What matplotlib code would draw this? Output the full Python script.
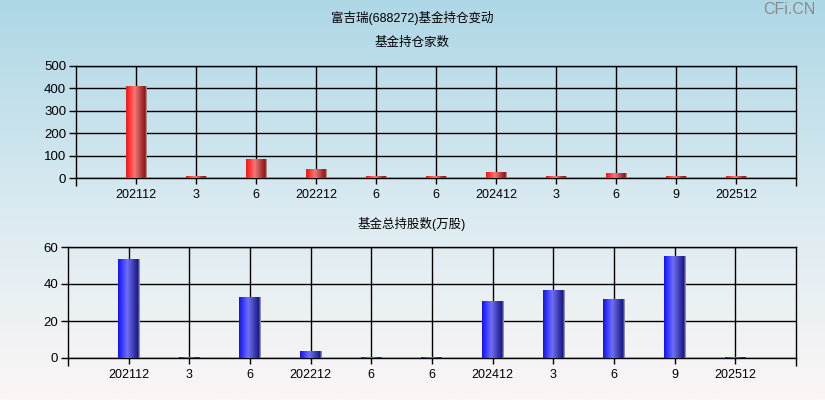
import numpy as np
import matplotlib
matplotlib.use("Agg")
import matplotlib.pyplot as plt
from matplotlib.colors import LinearSegmentedColormap

plt.rcParams['font.family'] = ['Liberation Sans', 'Noto Sans CJK SC', 'DejaVu Sans']

# Reporting periods
periods = ["202112", "3", "6", "202212", "6", "6", "202412", "3", "6", "9", "202512"]
# Number of funds holding the stock
fund_counts = [412, 8, 86, 42, 8, 8, 27, 8, 24, 8, 8]
# Total shares held by funds (10k shares)
fund_shares = [53.5, 0.4, 33.0, 4.0, 0.4, 0.4, 31.0, 36.9, 32.0, 55.3, 0.4]

title = "富吉瑞(688272)基金持仓变动"
top_title = "基金持仓家数"
bottom_title = "基金总持股数(万股)"

W, H = 825, 400
fig = plt.figure(figsize=(W / 100, H / 100), dpi=100)

# Background vertical gradient
bg = fig.add_axes([0, 0, 1, 1], zorder=-10)
bg_cmap = LinearSegmentedColormap.from_list(
    "bg", [(0.0, "#aed7e6"), (0.55, "#dcebf1"), (1.0, "#fcf6f6")])
bg.imshow(np.linspace(0, 1, 256).reshape(-1, 1), cmap=bg_cmap, aspect="auto",
          extent=[0, 1, 0, 1], origin="upper")
bg.set_axis_off()

red_cmap = LinearSegmentedColormap.from_list(
    "red", [(0.0, "#ff1010"), (0.12, "#ff2a2a"), (0.42, "#f07a7a"),
            (0.9, "#8e1818"), (0.93, "#7a1a1a"), (0.95, "#909090"), (1.0, "#909090")])
blue_cmap = LinearSegmentedColormap.from_list(
    "blue", [(0.0, "#1010ff"), (0.12, "#2a2aff"), (0.42, "#7070f0"),
             (0.9, "#1a1a88"), (0.93, "#1a1a78"), (0.95, "#909090"), (1.0, "#909090")])


def draw_panel(rect, values, ymax, yticks, cmap, width):
    ax = fig.add_axes(rect)
    ax.patch.set_alpha(0)
    x = np.arange(len(values))
    bars = ax.bar(x, values, width=width, color="none", zorder=3)
    grad = np.linspace(0, 1, 200).reshape(1, -1)
    for b in bars:
        x0, y0 = b.get_x(), b.get_y()
        im = ax.imshow(grad, cmap=cmap, aspect="auto", zorder=3,
                       extent=[x0, x0 + b.get_width(), y0, y0 + b.get_height()])
        im.set_clip_path(b)
    ax.set_xlim(-1, len(values))
    ax.set_ylim(0, ymax)
    ax.set_xticks(x)
    ax.set_xticklabels(periods, fontsize=9)
    ax.set_xticks([-1, len(values)], minor=True)
    ax.set_yticks(yticks)
    ax.set_yticklabels([str(t) for t in yticks], fontsize=9.5)
    ax.grid(True, color="black", linewidth=1, zorder=1)
    ax.set_axisbelow(True)
    ax.tick_params(axis="both", which="both", direction="out", width=1,
                   color="black", labelcolor="black", pad=2)
    ax.tick_params(axis="x", which="major", length=4, pad=4)
    ax.tick_params(axis="x", which="minor", length=6)
    ax.tick_params(axis="y", which="major", length=5)
    for s in ax.spines.values():
        s.set_color("black")
        s.set_linewidth(1)
    return ax


ax1 = draw_panel([76 / W, 1 - 178 / H, 720 / W, 112 / H], fund_counts, 500,
                 [0, 100, 200, 300, 400, 500], red_cmap, 0.34)
ax2 = draw_panel([68 / W, 1 - 358 / H, 728 / W, 111 / H], fund_shares, 60,
                 [0, 20, 40, 60], blue_cmap, 0.35)

fig.text(412 / W, 1 - 18 / H, title, ha="center", va="center", fontsize=9,
         color="black")
fig.text(412 / W, 1 - 43 / H, top_title, ha="center", va="center", fontsize=9,
         color="black")
fig.text(412 / W, 1 - 224 / H, bottom_title, ha="center", va="center",
         fontsize=9, color="black")
fig.text(816 / W, 1 - 10 / H, "CFi.CN", ha="right", va="center", fontsize=11.5,
         color="#8a8a8a")

fig.savefig("out.png", dpi=100)
